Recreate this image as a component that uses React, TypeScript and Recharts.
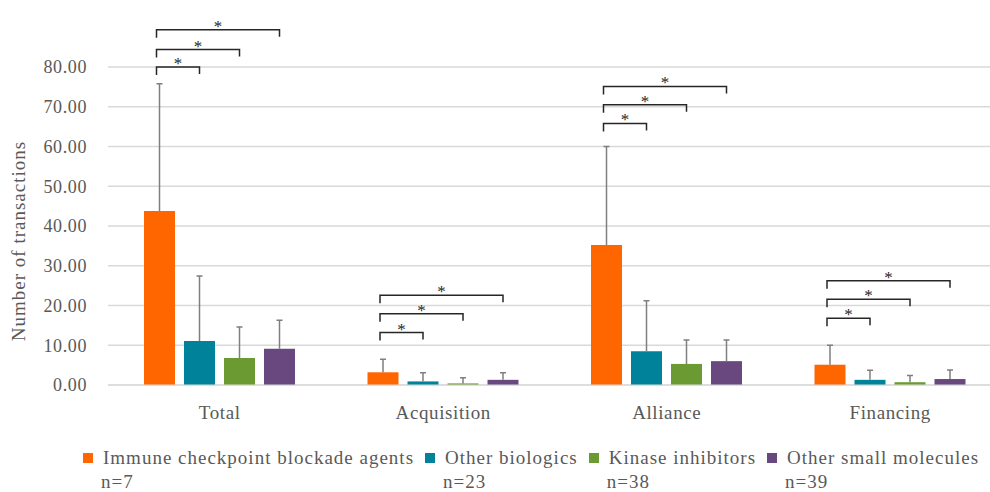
import React from "react";
import {
    BarChart,
    Bar,
    XAxis,
    YAxis,
    CartesianGrid,
    Legend,
    Label,
    Rectangle,
} from "recharts";

const categories = ["Total", "Acquisition", "Alliance", "Financing"];

// means and upper error (sd) per deal type
const icbMeans = [43.8, 3.2, 35.2, 5.1];
const icbSd = [32.0, 3.3, 24.8, 4.9];
const bioMeans = [11.1, 0.9, 8.5, 1.3];
const bioSd = [16.3, 2.2, 12.7, 2.4];
const kinMeans = [6.8, 0.4, 5.3, 0.7];
const kinSd = [7.8, 1.4, 6.0, 1.7];
const smallMeans = [9.1, 1.3, 6.0, 1.5];
const smallSd = [7.2, 1.8, 5.3, 2.3];

// significance brackets (y level of each bracket, orange vs teal / green / purple)
const bracketLevels = [
    [80.0, 84.4, 89.4],
    [13.2, 17.9, 22.6],
    [65.8, 70.5, 75.1],
    [16.8, 21.6, 26.2],
];

const yTicks = [0, 10, 20, 30, 40, 50, 60, 70, 80];
const seriesNames = [
    "Immune checkpoint blockade agents",
    "Other biologics",
    "Kinase inhibitors",
    "Other small molecules",
];
const seriesN = ["n=7", "n=23", "n=38", "n=39"];
const colors = ["#ff6600", "#00839a", "#6a9a31", "#69477f"];

const data = categories.map((name, i) => ({
    name,
    icb: icbMeans[i],
    icbSd: icbSd[i],
    bio: bioMeans[i],
    bioSd: bioSd[i],
    kin: kinMeans[i],
    kinSd: kinSd[i],
    small: smallMeans[i],
    smallSd: smallSd[i],
    brackets: bracketLevels[i],
}));

const FONT = "'Liberation Serif', 'DejaVu Serif', 'Times New Roman', serif";
const TEXT = "#595959";
const BAR_SIZE = 31;
const BAR_GAP = 9;

// bar + upper whisker (+ significance brackets on the first series)
const makeShape = (key: string, withBrackets: boolean) => (props: any) => {
    const { x, y, width, height, fill, payload } = props;
    const value = payload[key];
    const sd = payload[key + "Sd"];
    const zeroY = y + height;
    const perUnit = height / value;
    const cx0 = x + width / 2;
    const topY = y - sd * perUnit;
    return (
        <g>
            <Rectangle x={x} y={y} width={width} height={height} fill={fill} />
            <path
                d={`M${cx0},${y} L${cx0},${topY} M${cx0 - 3},${topY} L${cx0 + 3},${topY}`}
                stroke="#7f7f7f"
                strokeWidth={1.5}
                fill="none"
            />
            {withBrackets &&
                payload.brackets.map((lvl: number, k: number) => {
                    const ly = zeroY - lvl * perUnit;
                    const x1 = cx0 - 3;
                    const x2 = cx0 + (k + 1) * (width + BAR_GAP);
                    return (
                        <g key={k}>
                            <path
                                d={`M${x1},${ly + 8} L${x1},${ly} L${x2},${ly} L${x2},${ly + 7}`}
                                fill="none"
                                stroke="#262626"
                                strokeWidth={1.5}
                            />
                            <text
                                x={(x1 + x2) / 2}
                                y={ly + 2}
                                textAnchor="middle"
                                fontFamily={FONT}
                                fontSize={17}
                                fill="#262626"
                            >
                                *
                            </text>
                        </g>
                    );
                })}
        </g>
    );
};

const LegendContent = () => (
    <div
        style={{
            display: "flex",
            paddingLeft: 83,
            fontFamily: FONT,
            fontSize: 19,
            letterSpacing: 1.0,
            color: TEXT,
            lineHeight: "24px",
            whiteSpace: "nowrap",
        }}
    >
        {seriesNames.map((name, i) => (
            <div key={i} style={{ marginRight: 11, flexShrink: 0 }}>
                <div style={{ display: "flex", alignItems: "center" }}>
                    <span
                        style={{
                            width: 10,
                            height: 10,
                            background: colors[i],
                            marginRight: 10,
                            display: "inline-block",
                            flexShrink: 0,
                        }}
                    />
                    <span>{name}</span>
                </div>
                <div style={{ paddingLeft: 18, paddingTop: 2, lineHeight: "20px" }}>
                    {seriesN[i]}
                </div>
            </div>
        ))}
    </div>
);

const App: React.FC = () => {
    return (
        <div
            style={{
                position: "absolute",
                left: 0,
                top: 0,
                width: 990,
                height: 492,
                overflow: "hidden",
                background: "#ffffff",
            }}
        >
            <BarChart
                width={1002}
                height={492}
                data={data}
                margin={{ top: 67, right: 0, left: 0, bottom: 31 }}
                barSize={BAR_SIZE}
                barGap={BAR_GAP}
            >
                <CartesianGrid vertical={false} stroke="#d9d9d9" strokeWidth={1.3} />
                <XAxis
                    dataKey="name"
                    tickLine={false}
                    axisLine={{ stroke: "#d9d9d9" }}
                    tickMargin={15}
                    tick={{ fill: TEXT, fontFamily: FONT, fontSize: 19, letterSpacing: 0.6 }}
                />
                <YAxis
                    width={108}
                    domain={[0, 80]}
                    ticks={yTicks}
                    tickLine={false}
                    axisLine={false}
                    tickMargin={15}
                    tickFormatter={(v: number) => v.toFixed(2)}
                    tick={{ fill: TEXT, fontFamily: FONT, fontSize: 18, letterSpacing: 0.6 }}
                >
                    <Label
                        content={(p: any) => {
                            const vb = p.viewBox || {};
                            const cy = vb.y + vb.height / 2 + 15;
                            return (
                                <text
                                    x={18}
                                    y={cy}
                                    transform={`rotate(-90, 18, ${cy})`}
                                    textAnchor="middle"
                                    dominantBaseline="central"
                                    fontFamily={FONT}
                                    fontSize={19}
                                    letterSpacing={1.0}
                                    fill={TEXT}
                                >
                                    Number of transactions
                                </text>
                            );
                        }}
                    />
                </YAxis>
                <Legend
                    content={<LegendContent />}
                    wrapperStyle={{ top: 446, left: 0, width: 990, height: 46 }}
                />
                <Bar
                    dataKey="icb"
                    name={seriesNames[0]}
                    fill={colors[0]}
                    shape={makeShape("icb", true)}
                    isAnimationActive={false}
                />
                <Bar
                    dataKey="bio"
                    name={seriesNames[1]}
                    fill={colors[1]}
                    shape={makeShape("bio", false)}
                    isAnimationActive={false}
                />
                <Bar
                    dataKey="kin"
                    name={seriesNames[2]}
                    fill={colors[2]}
                    shape={makeShape("kin", false)}
                    isAnimationActive={false}
                />
                <Bar
                    dataKey="small"
                    name={seriesNames[3]}
                    fill={colors[3]}
                    shape={makeShape("small", false)}
                    isAnimationActive={false}
                />
            </BarChart>
        </div>
    );
};

export default App;
